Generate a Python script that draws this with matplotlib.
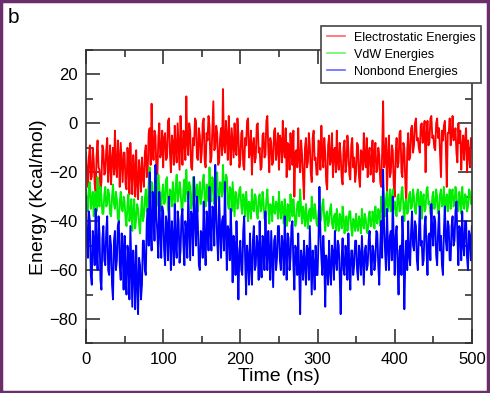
import numpy as np
import matplotlib
matplotlib.use('Agg')
import matplotlib.pyplot as plt
from matplotlib.patches import Rectangle
from matplotlib.ticker import MultipleLocator

plt.rcParams['font.family'] = ['Liberation Sans', 'DejaVu Sans']

# time axis, one sample every 1.25 ns (20 per row = 25 ns)
time = np.arange(0, 500.01, 1.25)

# Electrostatic energies
elec = [
    -12, -20, -26, -14, -9, -23, -22, -10, -15, -25, -28, -13, -7, -18, -19, -27, -24, -9, -11, -21,
    -20, -11, -6, -24, -17, -9, -25, -15, -10, -21, -3, -18, -22, -7, -14, -26, -8, -16, -24, -12,
    -12, -25, -27, -10, -16, -29, -8, -20, -29, -13, -18, -30, -11, -24, -31, -15, -20, -28, -14, -22,
    -26, -12, -9, -22, -19, -4, -2, -17, 8, -10, -15, -3, -5, -20, -21, -6, 0, -14, -12, -3,
    -18, -6, -4, -15, -14, 1, 2, -12, -20, -5, -8, -17, -1, -11, -16, 0, -10, -19, 3, -9,
    -17, -3, -6, -15, 11, -8, -13, 0, -3, -18, -19, -6, -9, 2, 1, -14, -15, -2, -5, -16,
    -12, 0, 2, -15, -18, -4, -7, 3, -1, -16, -14, -3, 9, -11, -10, -1, -4, -17, -16, -6,
    -2, -13, 14, -9, -12, 1, -6, -15, 3, -8, -17, -2, -8, -14, 0, -11, -13, 2, -5, -18,
    -15, -4, -3, -17, -19, -6, -9, 1, 2, -14, -12, -3, -21, -9, -6, -16, -14, -1, 0, -12,
    -10, -19, -18, -5, -4, -14, -13, 1, 3, -11, -20, -6, -8, -17, -16, -3, -2, -15, -11, -4,
    -19, -5, -7, -16, 1, -11, -14, -2, -22, -8, -9, -19, -4, -13, -17, -3, -30, -12, -11, -18,
    -2, -15, -20, -7, -13, -22, -31, -10, -6, -18, -16, -4, -9, -20, -24, -6, -3, -15, -14, -21,
    -21, -7, -8, -19, -1, -13, -18, -6, -12, -24, -27, -9, -5, -17, -15, -4, -22, -11, -10, -20,
    -3, -16, -19, -8, -13, -22, -25, -10, -7, -20, -17, -5, -11, -21, -23, -9, -6, -18, -14, -24,
    -20, -8, -9, -22, -26, -11, -12, -19, -4, -15, -18, -6, -22, -13, -10, -21, -16, -7, -24, -12,
    -8, -20, -19, -10, -13, -24, -26, -12, 9, -18, -15, -6, -28, -14, -5, -22, -20, -9, -11, -25,
    -30, -12, -6, -18, -16, -4, -3, -20, -22, -8, -10, -24, -33, -11, -4, -15, -14, -2, -1, -12,
    -9, 0, 2, -7, -6, -10, -12, -1, 0, -8, -4, 1, -20, -5, 1, -9, -8, 2, 3, -6,
    -5, -10, -11, 0, 2, -6, -2, -12, -22, -3, -7, -1, 1, -9, -26, -4, -4, 2, -9, -5,
    3, -7, -6, -2, -12, -16, 0, -8, -3, -19, -9, -5, -15, -7, -2, -20, -7, -13, -18, -6,
    -10,
]

# VdW energies
vdw = [
    -27, -33, -36, -25, -24, -35, -32, -28, -38, -30, -28, -36, -22, -31, -34, -26, -30, -37, -37, -29,
    -26, -34, -33, -27, -29, -37, -38, -30, -25, -33, -35, -28, -31, -39, -40, -32, -28, -35, -36, -30,
    -32, -39, -42, -33, -29, -40, -37, -31, -44, -36, -31, -43, -39, -33, -35, -41, -45, -37, -30, -40,
    -38, -31, -27, -36, -33, -24, -18, -30, -24, -32, -35, -26, -22, -34, -30, -21, -26, -33, -36, -28,
    -25, -33, -32, -23, -22, -35, -37, -27, -28, -34, -24, -30, -34, -26, -21, -32, -30, -24, -27, -35,
    -35, -27, -23, -32, -19, -28, -31, -24, -26, -35, -33, -22, -22, -30, -29, -25, -36, -28, -24, -33,
    -30, -24, -21, -31, -34, -25, -26, -32, -18, -27, -32, -22, -24, -33, -28, -21, -20, -30, -33, -24,
    -25, -30, -17, -27, -30, -21, -22, -33, -35, -26, -27, -36, -24, -31, -38, -28, -29, -35, -33, -27,
    -26, -34, -37, -29, -31, -38, -28, -33, -40, -32, -33, -39, -27, -35, -36, -29, -30, -37, -39, -31,
    -29, -36, -35, -28, -32, -39, -38, -31, -27, -35, -41, -33, -34, -40, -30, -36, -37, -32, -33, -39,
    -28, -35, -39, -32, -35, -41, -31, -37, -42, -33, -34, -40, -29, -36, -38, -31, -36, -42, -40, -33,
    -32, -38, -27, -35, -41, -34, -37, -42, -33, -39, -43, -36, -35, -40, -30, -37, -39, -33, -36, -41,
    -42, -36, -34, -40, -38, -33, -31, -39, -44, -37, -36, -42, -40, -35, -33, -41, -43, -38, -37, -44,
    -35, -41, -44, -37, -39, -43, -34, -38, -45, -40, -38, -44, -41, -36, -36, -43, -46, -39, -40, -44,
    -37, -42, -44, -38, -40, -45, -35, -41, -43, -37, -39, -44, -45, -38, -36, -42, -42, -36, -38, -43,
    -34, -40, -41, -35, -37, -42, -30, -36, -25, -33, -38, -31, -28, -36, -33, -27, -36, -30, -27, -35,
    -32, -37, -38, -30, -29, -36, -35, -28, -26, -34, -40, -32, -31, -37, -36, -29, -28, -35, -34, -27,
    -30, -36, -37, -29, -27, -34, -33, -28, -39, -31, -29, -36, -35, -27, -26, -33, -32, -37, -38, -30,
    -28, -35, -34, -27, -30, -37, -36, -29, -27, -34, -33, -26, -38, -31, -29, -36, -31, -27, -35, -29,
    -27, -34, -33, -26, -29, -35, -36, -28, -31, -37, -26, -32, -35, -29, -30, -36, -34, -27, -28, -33,
    -30,
]

# Nonbond energies
nonbond = [
    -30, -48, -55, -36, -40, -62, -66, -44, -48, -58, -35, -52, -60, -38, -45, -64, -68, -47, -42, -56,
    -58, -44, -38, -60, -62, -46, -50, -66, -72, -48, -44, -60, -56, -42, -40, -58, -64, -45, -52, -68,
    -46, -62, -70, -50, -55, -72, -42, -58, -75, -52, -60, -76, -50, -65, -78, -55, -58, -72, -66, -48,
    -48, -60, -62, -40, -35, -50, -20, -42, -52, -28, -30, -48, -17, -38, -45, -55, -28, -44, -55, -34,
    -36, -52, -58, -38, -42, -56, -30, -46, -60, -40, -47, -58, -33, -50, -55, -36, -40, -57, -52, -38,
    -35, -50, -58, -40, -44, -55, -28, -42, -56, -36, -38, -54, -22, -40, -50, -30, -42, -58, -60, -44,
    -45, -55, -32, -48, -58, -36, -40, -52, -26, -44, -52, -34, -35, -50, -17, -36, -48, -56, -30, -42,
    -55, -40, -38, -52, -24, -44, -60, -42, -44, -56, -35, -48, -65, -46, -50, -62, -40, -55, -72, -52,
    -48, -60, -62, -44, -38, -56, -70, -50, -55, -66, -45, -58, -66, -48, -42, -60, -58, -46, -50, -64,
    -40, -55, -63, -46, -48, -60, -36, -52, -60, -44, -52, -64, -44, -56, -67, -48, -46, -60, -55, -42,
    -42, -56, -60, -46, -50, -62, -38, -52, -64, -45, -47, -60, -55, -42, -40, -58, -68, -50, -52, -62,
    -45, -60, -78, -52, -56, -64, -48, -58, -66, -50, -52, -64, -42, -56, -70, -52, -58, -68, -50, -62,
    -62, -48, -26, -45, -55, -62, -46, -56, -75, -54, -58, -66, -48, -60, -66, -50, -53, -64, -44, -56,
    -60, -48, -50, -62, -78, -55, -47, -60, -62, -50, -55, -64, -45, -58, -68, -52, -52, -62, -58, -48,
    -48, -60, -64, -50, -54, -62, -46, -56, -66, -52, -50, -60, -58, -48, -44, -56, -62, -50, -52, -60,
    -56, -44, -45, -58, -66, -50, -40, -55, -19, -42, -52, -60, -35, -50, -60, -46, -44, -56, -30, -48,
    -62, -46, -42, -58, -70, -52, -50, -62, -38, -50, -76, -56, -48, -60, -40, -54, -58, -44, -36, -50,
    -52, -40, -42, -56, -60, -46, -34, -50, -48, -58, -56, -42, -38, -52, -62, -46, -45, -56, -33, -44,
    -50, -38, -40, -54, -58, -44, -36, -52, -46, -58, -62, -44, -34, -48, -52, -40, -42, -56, -56, -42,
    -38, -50, -48, -36, -32, -46, -58, -42, -44, -56, -36, -50, -54, -40, -40, -55, -60, -44, -46, -56,
    -42,
]

labels = ['Electrostatic Energies', 'VdW Energies', 'Nonbond Energies']
colors = ['#ff0000', '#00ee00', '#0000ff']

fig = plt.figure(figsize=(4.9, 3.93), dpi=100)
ax = fig.add_axes([0.1755, 0.126, 0.7875, 0.747])

for y, c, lab in zip([elec, vdw, nonbond], colors, labels):
    ax.plot(time, y, color=c, lw=1.35, label=lab)

ax.set_xlim(0, 500)
ax.set_ylim(-90, 30)
ax.xaxis.set_major_locator(MultipleLocator(100))
ax.xaxis.set_minor_locator(MultipleLocator(50))
ax.yaxis.set_major_locator(MultipleLocator(20))
ax.yaxis.set_minor_locator(MultipleLocator(10))
ax.tick_params(which='both', direction='in', top=True, right=True,
               labelsize=12, width=1.2, color='#333333')
ax.tick_params(which='major', length=10, pad=6)
ax.tick_params(which='minor', length=5)
for s in ax.spines.values():
    s.set_linewidth(1.2)
    s.set_color('#333333')

ax.set_xlabel('Time (ns)', fontsize=14, labelpad=1)
ax.set_ylabel('Energy (Kcal/mol)', fontsize=14, labelpad=2)

leg = ax.legend(loc='upper right', bbox_to_anchor=(0.982, 0.934),
                bbox_transform=fig.transFigure, borderaxespad=0,
                fontsize=9, handlelength=1.45, handletextpad=0.7,
                labelspacing=0.4, borderpad=0.45, fancybox=False,
                framealpha=1, edgecolor='#444444')
leg.get_frame().set_linewidth(1.2)
for h in leg.get_lines():
    h.set_alpha(0.6)
    h.set_linewidth(1.2)

fig.text(0.016, 0.955, 'b', fontsize=15, ha='left', va='center')

# purple border round the picture
fig.patches.append(Rectangle((0.002, 0.002), 0.994, 0.996, transform=fig.transFigure,
                             fill=False, edgecolor='#6b2d6b', lw=2.5))

fig.savefig('out.png', dpi=100)
